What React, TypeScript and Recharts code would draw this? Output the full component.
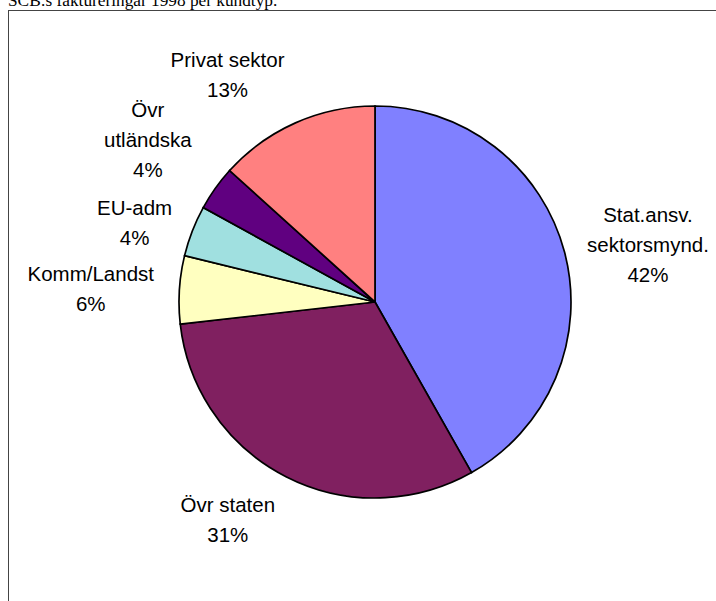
import { Cell, Pie, PieChart } from "recharts";

// SCB invoicing 1998 by customer type (share, %)
const categories = [
  "Stat.ansv. sektorsmynd.",
  "Övr staten",
  "Komm/Landst",
  "EU-adm",
  "Övr utländska",
  "Privat sektor",
];
const shares = [41.8, 31.4, 5.6, 4.2, 3.7, 13.3];
const labelLines = [
  ["Stat.ansv.", "sektorsmynd."],
  ["Övr staten"],
  ["Komm/Landst"],
  ["EU-adm"],
  ["Övr", "utländska"],
  ["Privat sektor"],
];
const colors = ["#8080FF", "#802060", "#FFFFC0", "#A0E0E0", "#600080", "#FF8080"];

// hand-placed labels in the original: [angle nudge in deg, radial nudge in px]
const labelShift: [number, number][] = [
  [-3, -4],
  [-7, -2],
  [1, 6],
  [3, -6],
  [0, 3],
  [9, 1],
];

const data = categories.map((name, i) => ({ name, value: shares[i] }));

const FONT = 20.5;
const LINE_H = 30;
const GAP = 18;
const FAMILY = '"Liberation Sans", Arial, sans-serif';

const ctx =
  typeof document !== "undefined"
    ? document.createElement("canvas").getContext("2d")
    : null;

function textWidth(s: string) {
  if (!ctx) return s.length * FONT * 0.55;
  ctx.font = `${FONT}px "Liberation Sans"`;
  return ctx.measureText(s).width;
}

function renderLabel(props: any) {
  const { cx, cy, midAngle, outerRadius, percent, index } = props;
  const lines = [...labelLines[index], `${Math.round(percent * 100)}%`];
  const [da, dr] = labelShift[index];
  const a = ((midAngle + da) * Math.PI) / 180;
  const dx = Math.cos(a);
  const dy = -Math.sin(a);
  const w = Math.max(...lines.map(textWidth));
  const h = lines.length * LINE_H;
  const r = outerRadius + GAP + dr + (Math.abs(dx) * w) / 2 + (Math.abs(dy) * h) / 2;
  const x = cx + r * dx;
  const y = cy + r * dy;
  return (
    <text
      key={`lbl-${index}`}
      x={x}
      y={y}
      textAnchor="middle"
      fill="#000"
      fontSize={FONT}
      fontFamily={FAMILY}
    >
      {lines.map((l, i) => (
        <tspan
          key={i}
          x={x}
          y={y + (i - (lines.length - 1) / 2) * LINE_H + FONT * 0.35}
        >
          {l}
        </tspan>
      ))}
    </text>
  );
}

export default function App() {
  return (
    <div style={{ position: "absolute", left: 0, top: 0, width: 716, height: 601, overflow: "hidden" }}>
      <div
        style={{
          position: "absolute",
          left: 8,
          top: -8.5,
          fontFamily: '"Liberation Serif", "Times New Roman", serif',
          fontSize: 17.3,
          lineHeight: "17.3px",
          whiteSpace: "nowrap",
        }}
      >
        SCB:s faktureringar 1998 per kundtyp.
      </div>
      <div
        style={{
          position: "absolute",
          left: 8,
          top: 10,
          width: 800,
          height: 700,
          borderTop: "1px solid #444",
          borderLeft: "1px solid #444",
        }}
      />
      <div style={{ position: "absolute", left: 0, top: 0 }}>
        <PieChart width={716} height={601} margin={{ top: 0, right: 0, bottom: 0, left: 0 }}>
          <Pie
            data={data}
            dataKey="value"
            nameKey="name"
            cx={375}
            cy={302}
            outerRadius={196}
            startAngle={90}
            endAngle={-270}
            stroke="#000"
            strokeWidth={1.7}
            label={renderLabel}
            labelLine={false}
            isAnimationActive={false}
          >
            {data.map((d, i) => (
              <Cell key={d.name} fill={colors[i]} />
            ))}
          </Pie>
        </PieChart>
      </div>
    </div>
  );
}
